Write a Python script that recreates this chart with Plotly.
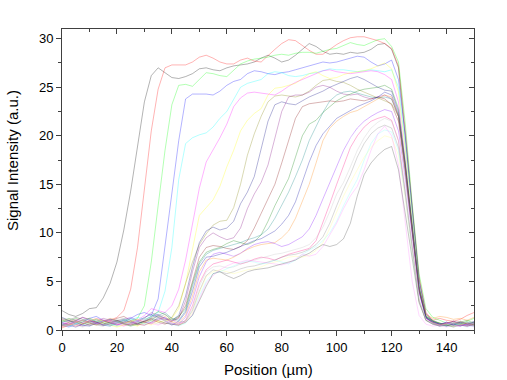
import plotly.graph_objects as go

position = [0, 2.5, 5, 7.5, 10, 12.5, 15, 17.5, 20, 22.5,
            25, 27.5, 30, 32.5, 35, 37.5, 40, 42.5, 45, 47.5,
            50, 52.5, 55, 57.5, 60, 62.5, 65, 67.5, 70, 72.5,
            75, 77.5, 80, 82.5, 85, 87.5, 90, 92.5, 95, 97.5,
            100, 102.5, 105, 107.5, 110, 112.5, 115, 117.5, 120, 122.5,
            125, 127.5, 130, 132.5, 135, 137.5, 140, 142.5, 145, 147.5, 150]

c_black = [2.0, 1.6, 1.4, 1.7, 2.2, 2.3, 3.3, 4.8, 7.0, 10.3,
           14.3, 19.0, 23.5, 26.2, 27.0, 26.5, 26.0, 25.9, 26.1, 26.4,
           26.9, 27.0, 26.8, 26.7, 27.0, 27.2, 27.3, 27.4, 27.6, 28.0,
           28.3, 28.0, 27.6, 27.8, 28.3, 28.9, 29.5, 29.2, 28.7, 28.4,
           28.5, 28.4, 28.6, 28.5, 28.6, 28.9, 29.4, 29.5, 28.9, 27.0,
           19.5, 12.0, 5.2, 1.6, 0.9, 0.7, 0.5, 0.6, 0.8, 0.6, 0.7]
c_red = [0.3, 0.5, 0.9, 0.7, 1.0, 0.8, 0.6, 1.0, 1.3, 2.0,
         4.2, 8.5, 14.3, 20.5, 24.8, 27.0, 27.3, 27.3, 27.3, 27.6,
         28.1, 28.3, 28.0, 27.6, 27.4, 27.4, 27.8, 28.0, 27.7, 27.6,
         28.2, 28.9, 29.5, 29.9, 29.8, 29.3, 28.8, 28.4, 28.4, 28.9,
         29.4, 29.8, 30.1, 30.2, 30.2, 30.0, 29.8, 29.5, 29.0, 27.2,
         20.5, 12.8, 5.5, 1.8, 1.0, 1.2, 1.0, 0.9, 1.1, 1.5, 1.8]
c_green = [1.0, 0.8, 1.2, 0.9, 0.6, 0.8, 1.0, 0.7, 0.9, 1.1,
           0.8, 1.2, 2.5, 7.0, 12.8, 18.5, 23.2, 25.2, 25.3, 25.1,
           25.8, 26.5, 26.4, 26.2, 26.1, 26.8, 27.4, 27.7, 27.9, 28.0,
           28.1, 28.3, 28.4, 28.3, 28.5, 28.6, 28.6, 28.5, 28.7, 28.9,
           29.0, 29.3, 29.6, 29.4, 29.3, 29.6, 29.9, 30.0, 29.2, 27.6,
           21.2, 13.0, 5.8, 2.2, 1.3, 1.0, 0.7, 0.8, 0.6, 0.9, 1.2]
c_blue = [0.5, 0.3, 0.6, 0.8, 1.2, 1.4, 1.0, 0.7, 0.5, 0.8,
          1.2, 1.6, 1.8, 1.5, 3.2, 8.5, 14.0, 19.5, 23.8, 24.3,
          24.3, 24.3, 24.2, 24.6, 25.2, 25.6, 25.8, 26.4, 26.7, 26.6,
          26.4, 26.3, 26.5, 26.6, 26.8, 27.0, 27.2, 27.4, 27.6, 27.5,
          27.6, 27.8, 28.0, 28.2, 28.1, 27.6, 27.2, 27.4, 27.8, 25.8,
          20.0, 12.5, 5.0, 1.7, 0.9, 0.6, 0.8, 0.5, 0.7, 0.8, 0.6]
c_cyan = [0.8, 1.0, 0.7, 0.5, 0.9, 1.1, 0.8, 0.6, 0.4, 0.7,
          1.0, 1.3, 1.1, 1.4, 1.8, 4.0, 8.5, 15.5, 19.2, 19.8,
          20.1, 20.3, 20.9, 21.8, 22.5, 23.8, 25.0, 25.4, 25.6, 25.8,
          26.4, 26.6, 26.5, 26.2, 26.1, 26.2, 26.4, 26.5, 26.7, 26.9,
          26.8, 26.8, 26.7, 26.6, 26.7, 26.8, 26.7, 26.6, 26.8, 25.0,
          19.0, 11.5, 4.5, 1.4, 0.8, 0.6, 0.4, 0.5, 0.7, 0.5, 0.4]
c_magenta = [0.6, 0.9, 1.1, 0.8, 0.5, 0.7, 1.0, 0.9, 0.6, 0.4,
             0.7, 1.0, 1.5, 2.2, 2.0, 1.8, 2.5, 4.2, 7.2, 11.0,
             14.6, 17.3, 18.5, 19.8, 21.2, 23.0, 23.9, 24.4, 24.5, 24.4,
             24.3, 24.2, 24.6, 25.1, 25.5, 25.8, 26.1, 26.4, 26.7, 26.8,
             26.6, 26.5, 26.4, 26.5, 26.6, 26.7, 26.6, 26.3, 25.8, 23.5,
             17.5, 10.5, 4.0, 1.2, 0.7, 0.4, 0.6, 0.8, 0.5, 0.4, 0.6]
c_yellow = [0.4, 0.6, 0.5, 0.9, 1.2, 1.0, 0.7, 0.5, 0.3, 0.5,
            0.6, 0.4, 0.8, 1.0, 0.9, 0.8, 1.2, 2.2, 4.8, 8.5,
            11.8, 12.6, 13.4, 14.8, 16.8, 18.5, 20.5, 21.6, 22.3, 22.8,
            24.2, 24.9, 25.0, 25.2, 25.4, 25.9, 26.4, 26.6, 26.2, 25.9,
            26.0, 26.3, 26.5, 26.6, 26.7, 26.9, 27.2, 27.5, 26.9, 24.5,
            18.5, 11.2, 4.6, 1.5, 0.9, 0.7, 0.5, 0.4, 0.6, 0.7, 0.5]
c_darkyellow = [1.2, 1.0, 0.8, 0.6, 0.8, 1.1, 0.9, 0.7, 0.6, 0.9,
                0.7, 0.5, 0.8, 1.2, 1.4, 1.0, 1.3, 2.5, 4.8, 7.0,
                8.8, 9.9, 10.8, 11.2, 11.3, 12.6, 15.0, 18.0, 20.2, 22.0,
                23.5, 24.1, 24.2, 24.1, 24.0, 24.2, 24.6, 25.2, 25.7, 25.8,
                25.6, 25.5, 25.2, 24.8, 24.5, 24.2, 23.9, 23.6, 23.3, 22.0,
                17.0, 10.5, 4.2, 1.3, 0.8, 0.5, 0.7, 0.9, 0.6, 0.5, 0.8]
c_navy = [0.7, 0.5, 0.3, 0.6, 0.9, 0.8, 0.5, 0.4, 0.7, 1.0,
          0.8, 0.6, 0.9, 1.3, 1.6, 1.2, 1.0, 1.5, 3.5, 6.5,
          9.0, 10.2, 10.6, 10.3, 10.5, 11.2, 13.0, 14.2, 15.8, 18.5,
          21.5, 23.2, 23.5, 23.3, 23.2, 23.6, 24.0, 24.3, 24.6, 25.0,
          25.3, 25.6, 25.9, 26.1, 25.8, 25.4, 25.0, 24.7, 24.6, 22.5,
          17.0, 10.8, 4.5, 1.4, 0.9, 0.6, 0.4, 0.7, 0.5, 0.6, 0.9]
c_purple = [1.1, 0.9, 0.6, 0.4, 0.6, 0.9, 1.2, 1.0, 0.8, 0.6,
            0.5, 0.8, 1.2, 1.8, 1.5, 1.1, 0.9, 1.2, 3.0, 6.0,
            8.5, 9.5, 10.0, 9.6, 9.3, 9.5, 10.5, 12.5, 14.0, 15.2,
            17.0, 19.8, 22.5, 24.0, 24.2, 24.2, 24.5, 25.0, 25.2, 25.0,
            24.6, 24.3, 24.2, 24.3, 24.0, 23.8, 24.0, 24.2, 23.8, 22.0,
            16.5, 10.0, 4.0, 1.2, 0.7, 0.5, 0.8, 0.6, 0.4, 0.7, 0.5]
c_wine = [0.5, 0.8, 1.0, 1.3, 1.1, 0.8, 0.6, 0.9, 1.2, 1.4,
          1.0, 0.7, 0.9, 1.1, 0.8, 0.6, 0.9, 1.3, 2.5, 5.0,
          7.5, 8.5, 8.7, 8.6, 8.4, 8.3, 8.6, 9.2, 10.5, 12.0,
          13.5, 15.0, 17.2, 19.5, 21.8, 23.0, 23.3, 23.4, 23.5, 23.6,
          23.5, 23.6, 23.8, 23.7, 23.6, 23.8, 24.0, 23.8, 23.2, 21.5,
          16.2, 10.0, 4.0, 1.3, 0.8, 0.6, 0.5, 0.7, 0.9, 0.6, 0.5]
c_olive = [0.9, 1.2, 1.0, 0.7, 0.5, 0.6, 0.8, 1.1, 0.9, 0.6,
           0.4, 0.6, 1.0, 1.4, 1.9, 1.6, 1.0, 1.4, 2.2, 4.8,
           7.0, 8.0, 8.3, 8.5, 8.9, 9.2, 9.0, 8.8, 9.1, 9.8,
           11.2, 12.8, 14.2, 15.6, 17.8, 20.0, 21.2, 21.6, 22.4, 23.0,
           23.6, 24.0, 24.3, 24.6, 24.8, 24.9, 25.0, 25.2, 24.8, 22.8,
           17.2, 10.6, 4.3, 1.4, 1.0, 0.7, 0.6, 0.5, 0.8, 1.0, 0.7]
c_darkcyan = [0.6, 0.4, 0.7, 1.0, 1.2, 0.9, 0.7, 0.5, 0.8, 1.0,
              1.2, 0.9, 0.7, 1.0, 1.5, 1.8, 1.2, 1.0, 2.0, 4.5,
              6.8, 7.8, 8.2, 8.4, 8.6, 8.8, 9.0, 9.3, 9.5, 9.8,
              10.4, 11.5, 12.8, 14.2, 15.8, 17.5, 19.5, 21.0, 22.4, 23.6,
              24.2, 24.5, 24.6, 24.4, 24.2, 24.0, 23.9, 24.0, 23.8, 22.0,
              16.5, 10.2, 4.1, 1.3, 0.9, 0.7, 0.5, 0.4, 0.6, 0.8, 0.6]
c_royal = [1.3, 1.0, 0.8, 0.5, 0.4, 0.7, 0.9, 1.1, 1.0, 0.8,
           0.6, 0.9, 1.3, 1.6, 1.3, 0.9, 0.5, 0.9, 1.8, 4.0,
           6.5, 7.5, 7.6, 7.8, 8.0, 8.3, 8.6, 8.9, 9.2, 9.4,
           9.8, 10.2, 10.9, 11.8, 13.2, 15.2, 17.3, 19.0, 20.2, 21.0,
           21.8, 22.2, 22.6, 23.0, 23.3, 23.6, 24.0, 24.5, 24.2, 22.2,
           16.8, 10.4, 4.2, 1.3, 0.7, 0.5, 0.6, 0.9, 0.7, 0.5, 0.8]
c_orange = [0.2, 0.5, 0.8, 1.0, 0.7, 0.5, 0.8, 1.2, 1.0, 0.7,
            0.9, 1.1, 0.8, 0.6, 1.0, 1.4, 0.8, 0.7, 1.5, 3.5,
            6.0, 7.2, 7.4, 7.3, 7.2, 7.5, 7.9, 8.3, 8.6, 8.8,
            8.9, 9.0, 9.5, 10.2, 11.5, 13.3, 15.0, 17.2, 19.5, 20.8,
            21.5, 22.0, 22.4, 22.6, 23.0, 23.4, 23.8, 24.2, 24.0, 22.0,
            16.5, 10.3, 4.2, 1.6, 1.2, 1.4, 1.3, 1.1, 1.2, 1.0, 1.3]
c_violet = [0.8, 0.6, 0.9, 1.3, 1.0, 0.7, 0.5, 0.6, 0.9, 1.1,
            1.3, 1.0, 0.8, 0.7, 1.1, 1.3, 0.7, 0.6, 1.3, 3.0,
            5.5, 7.0, 7.8, 8.0, 7.8, 7.6, 7.9, 8.4, 8.8, 9.0,
            9.1, 8.9, 8.6, 8.8, 9.2, 9.6, 10.4, 11.8, 13.5, 15.2,
            17.0, 18.5, 19.8, 20.8, 21.5, 22.0, 22.4, 22.7, 22.5, 20.5,
            15.5, 9.5, 3.8, 1.2, 0.8, 0.6, 0.7, 0.5, 0.4, 0.6, 0.7]
c_pink = [0.5, 0.7, 0.4, 0.6, 0.9, 1.2, 1.0, 0.8, 0.5, 0.7,
          0.9, 0.6, 0.5, 0.8, 1.2, 1.0, 0.6, 0.5, 1.0, 2.5,
          4.8, 6.2, 6.8, 7.0, 7.2, 7.0, 6.8, 7.0, 7.3, 7.5,
          7.4, 7.2, 7.5, 7.8, 8.0, 8.2, 8.4, 9.2, 11.0, 13.0,
          15.0, 17.0, 18.8, 20.0, 20.9, 21.5, 21.8, 22.0, 21.6, 19.5,
          14.0, 8.0, 3.0, 1.0, 0.6, 0.5, 0.7, 0.9, 0.6, 0.4, 0.5]
c_white = [0.7, 0.9, 1.1, 0.8, 0.6, 0.4, 0.7, 0.9, 1.1, 0.8,
           0.6, 0.8, 1.0, 1.3, 1.1, 0.9, 0.7, 0.8, 1.2, 2.8,
           5.2, 6.6, 7.2, 7.4, 7.5, 7.7, 7.9, 8.1, 8.3, 8.5,
           8.6, 8.8, 9.0, 9.3, 9.8, 10.5, 11.6, 13.0, 14.6, 16.2,
           17.6, 18.8, 19.8, 20.6, 21.2, 21.6, 22.0, 22.3, 22.0, 20.0,
           15.0, 9.0, 3.5, 1.1, 0.7, 0.5, 0.6, 0.8, 0.6, 0.5, 0.7]
c_ltgray = [1.0, 0.8, 0.5, 0.3, 0.5, 0.8, 1.0, 1.2, 0.9, 0.6,
            0.8, 1.0, 1.2, 0.9, 0.6, 0.8, 1.1, 0.6, 1.0, 2.2,
            4.5, 6.0, 6.5, 6.6, 6.4, 6.5, 6.8, 7.0, 7.2, 7.4,
            7.6, 7.8, 7.9, 8.1, 8.3, 8.5, 8.8, 9.5, 10.6, 12.2,
            14.0, 15.2, 16.8, 18.5, 19.8, 20.8, 21.4, 21.8, 21.5, 19.5,
            14.5, 8.5, 3.2, 1.0, 0.6, 0.4, 0.5, 0.7, 0.9, 0.7, 0.5]
c_gray = [0.4, 0.6, 0.8, 1.0, 0.7, 0.5, 0.4, 0.7, 1.0, 1.2,
          0.9, 0.6, 0.5, 0.8, 1.3, 1.6, 1.2, 0.8, 0.9, 2.0,
          4.0, 5.6, 6.2, 6.0, 5.8, 6.0, 6.3, 6.5, 6.6, 6.8,
          7.0, 7.2, 7.5, 7.7, 7.8, 8.0, 8.3, 8.8, 9.6, 11.0,
          12.8, 14.5, 16.0, 17.8, 19.2, 20.2, 20.8, 21.1, 20.8, 18.8,
          14.0, 8.2, 3.0, 1.0, 0.7, 0.5, 0.4, 0.6, 0.8, 0.6, 0.4]
c_ltyellow = [0.9, 1.1, 0.8, 0.6, 0.9, 1.2, 0.9, 0.6, 0.4, 0.6,
              0.9, 1.1, 0.7, 0.5, 0.8, 1.0, 0.9, 0.5, 0.8, 1.8,
              3.8, 5.5, 6.0, 6.2, 6.0, 5.8, 6.0, 6.2, 6.3, 6.5,
              6.8, 7.0, 7.2, 7.5, 7.6, 7.5, 7.7, 8.2, 9.0, 10.5,
              12.2, 13.8, 15.2, 16.5, 17.8, 18.8, 19.5, 20.0, 19.8, 18.0,
              13.5, 8.0, 3.0, 1.0, 0.7, 0.5, 0.6, 0.4, 0.6, 0.8, 0.6]
c_ltcyan = [0.6, 0.4, 0.6, 0.9, 1.1, 0.9, 0.6, 0.4, 0.7, 1.0,
            1.1, 0.8, 0.6, 0.9, 1.2, 1.0, 0.6, 0.4, 0.7, 1.5,
            3.5, 5.0, 5.8, 6.0, 6.3, 6.6, 6.9, 7.1, 7.0, 6.8,
            6.9, 7.2, 7.0, 6.8, 7.2, 7.8, 8.2, 8.6, 9.2, 10.0,
            11.2, 12.8, 14.2, 15.5, 17.5, 19.2, 20.2, 20.6, 20.4, 18.5,
            13.8, 8.0, 3.0, 1.0, 0.6, 0.4, 0.5, 0.7, 0.5, 0.3, 0.5]
c_ltmagenta = [0.3, 0.5, 0.8, 1.0, 0.8, 0.6, 0.9, 1.1, 0.7, 0.5,
               0.6, 0.9, 1.0, 0.7, 0.5, 0.8, 1.0, 0.7, 0.8, 1.6,
               3.2, 4.8, 5.6, 6.2, 6.6, 6.9, 7.0, 7.2, 7.1, 7.0,
               6.9, 6.8, 6.7, 6.9, 7.3, 7.8, 7.6, 7.8, 8.6, 9.8,
               11.0, 12.5, 13.8, 14.8, 16.5, 18.5, 20.2, 21.0, 20.0, 17.0,
               11.0, 5.0, 1.5, 0.6, 0.4, 0.5, 0.3, 0.5, 0.4, 0.6, 0.3]
c_dkgray = [0.8, 1.0, 1.3, 1.1, 0.8, 0.6, 0.5, 0.8, 1.0, 0.7,
            0.5, 0.7, 0.9, 1.2, 1.0, 0.7, 0.6, 0.5, 0.8, 1.5,
            3.0, 4.5, 5.8, 6.0, 5.6, 5.3, 5.6, 6.0, 6.2, 6.3,
            6.4, 6.6, 6.8, 7.0, 7.2, 7.6, 7.9, 8.4, 8.8, 8.6,
            8.8, 9.4, 11.0, 13.8, 16.0, 17.2, 18.0, 18.6, 18.9, 16.5,
            12.0, 7.0, 2.8, 1.0, 0.6, 0.4, 0.5, 0.3, 0.5, 0.4, 0.6]

profiles = [c_black, c_red, c_green, c_blue, c_cyan, c_magenta, c_yellow,
            c_darkyellow, c_navy, c_purple, c_wine, c_olive, c_darkcyan,
            c_royal, c_orange, c_violet, c_pink, c_white, c_ltgray, c_gray,
            c_ltyellow, c_ltcyan, c_ltmagenta, c_dkgray]

colors = ["#000000", "#FF0000", "#00FF00", "#0000FF", "#00FFFF", "#FF00FF",
          "#FFFF00", "#808000", "#000080", "#800080", "#800000", "#008000",
          "#008080", "#0000A0", "#FF8000", "#8000FF", "#FF0080", "#FFFFFF",
          "#C0C0C0", "#808080", "#FFFF80", "#80FFFF", "#FF80FF", "#404040"]

x_title = "Position (µm)"
y_title = "Signal Intensity (a.u.)"

fig = go.Figure()
for prof, col in zip(profiles, colors):
    fig.add_trace(go.Scatter(x=position, y=prof, mode="lines",
                             line=dict(color=col, width=0.5), opacity=0.6,
                             showlegend=False, hoverinfo="skip"))

# empty trace so the mirrored (top/right) axes exist
fig.add_trace(go.Scatter(x=[], y=[], xaxis="x2", yaxis="y2", showlegend=False))

AX = "#404040"
FONT = "Liberation Sans, Arial, sans-serif"

fig.update_layout(
    width=507, height=380,
    margin=dict(l=62, r=33, t=29, b=50),
    plot_bgcolor="white", paper_bgcolor="white",
    showlegend=False,
    font=dict(family=FONT, size=13, color="black"),
    xaxis=dict(range=[0, 150], tickmode="linear", tick0=0, dtick=20,
               ticks="outside", ticklen=5, tickwidth=1, tickcolor=AX,
               minor=dict(dtick=10, ticklen=3, ticks="outside", tickcolor=AX, tickwidth=1),
               showline=True, linecolor=AX, linewidth=1,
               showgrid=False, zeroline=False, automargin=False),
    yaxis=dict(range=[0, 31], tickmode="linear", tick0=0, dtick=5,
               ticks="outside", ticklen=5, tickwidth=1, tickcolor=AX,
               minor=dict(dtick=2.5, ticklen=3, ticks="outside", tickcolor=AX, tickwidth=1),
               showline=True, linecolor=AX, linewidth=1,
               showgrid=False, zeroline=False, automargin=False),
    xaxis2=dict(overlaying="x", side="top", anchor="y", range=[0, 150],
                tickmode="linear", tick0=0, dtick=20, ticks="inside", ticklen=5,
                tickcolor=AX, showticklabels=False,
                minor=dict(dtick=10, ticklen=3, ticks="inside", tickcolor=AX),
                showline=True, linecolor=AX, linewidth=1, showgrid=False, zeroline=False),
    yaxis2=dict(overlaying="y", side="right", anchor="x", range=[0, 31],
                tickmode="linear", tick0=0, dtick=5, ticks="inside", ticklen=5,
                tickcolor=AX, showticklabels=False,
                minor=dict(dtick=2.5, ticklen=3, ticks="inside", tickcolor=AX),
                showline=True, linecolor=AX, linewidth=1, showgrid=False, zeroline=False),
    annotations=[
        dict(text=x_title, xref="paper", yref="paper", x=0.5, y=-0.1296,
             xanchor="center", yanchor="middle", showarrow=False,
             font=dict(size=15, family=FONT, color="black")),
        dict(text=y_title, xref="paper", yref="paper", x=-0.1189, y=0.5615,
             xanchor="center", yanchor="middle", showarrow=False, textangle=-90,
             font=dict(size=15, family=FONT, color="black")),
    ],
)

fig.write_html("out.html",
               config={"displayModeBar": False, "staticPlot": True},
               post_script="document.body.style.margin='0';document.body.style.overflow='hidden';")
